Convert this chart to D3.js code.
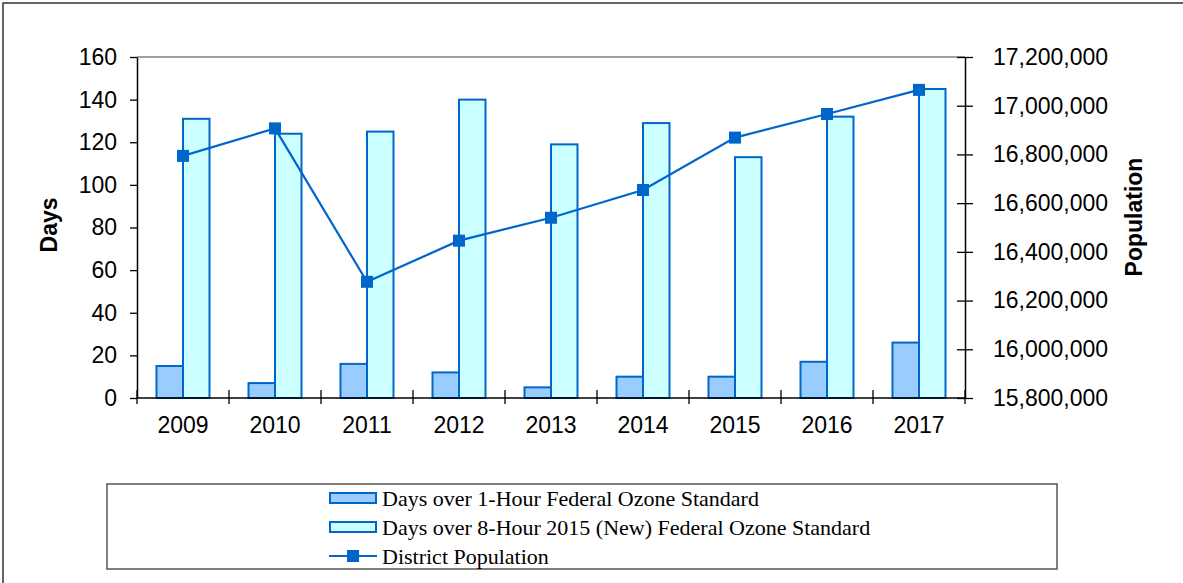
<!DOCTYPE html>
<html>
<head>
<meta charset="utf-8">
<script src="https://cdn.jsdelivr.net/npm/d3@7"></script>
<style>
  body { margin: 0; background: #fff; }
  svg { display: block; }
</style>
</head>
<body>
<div id="chart"></div>
<script>
const years = ['2009', '2010', '2011', '2012', '2013', '2014', '2015', '2016', '2017']
const oneHourDays = [15, 7, 16, 12, 5, 10, 10, 17, 26]
const eightHourDays = [131, 124, 125, 140, 119, 129, 113, 132, 145]
const population = [16794000, 16907000, 16277000, 16446000, 16540000, 16654000, 16869000, 16966000, 17065000]
const daysTicks = [0, 20, 40, 60, 80, 100, 120, 140, 160]
const popTicks = [15800000, 16000000, 16200000, 16400000, 16600000, 16800000, 17000000, 17200000]
const legendLabels = [
    'Days over 1-Hour Federal Ozone Standard',
    'Days over 8-Hour 2015 (New) Federal Ozone Standard',
    'District Population'
]

const W = 1183, H = 583
const plotL = 137, plotR = 965, plotT = 57, plotB = 398
const blue = '#0066cc'
const axisFont = '"Liberation Sans", Arial, sans-serif'

const svg = d3.select('#chart').append('svg')
    .attr('width', W)
    .attr('height', H)

// outer chart border (only top and left fall inside the picture)
svg.append('rect')
    .attr('x', 3).attr('y', 3)
    .attr('width', W + 20).attr('height', H + 20)
    .attr('fill', 'none')
    .attr('stroke', '#333')
    .attr('stroke-width', 1.5)

let x = d3.scaleBand().domain(years).range([plotL, plotR])
let xSub = d3.scaleBand().domain(['h1', 'h8']).range([0, x.bandwidth()]).paddingOuter(0.736)
let yL = d3.scaleLinear().domain([0, 160]).range([plotB, plotT])
let yR = d3.scaleLinear().domain([15800000, 17200000]).range([plotB, plotT])

// plot area top edge
svg.append('line')
    .attr('x1', plotL).attr('x2', plotR)
    .attr('y1', plotT).attr('y2', plotT)
    .attr('stroke', '#808080').attr('stroke-width', 1.5)

const rows = years.map((y, i) => ({ year: y, h1: oneHourDays[i], h8: eightHourDays[i], pop: population[i] }))

// bars
const groups = svg.selectAll('g.year').data(rows)
    .enter().append('g')
    .attr('class', 'year')
    .attr('transform', d => `translate(${x(d.year)},0)`)

groups.append('rect')
    .attr('x', xSub('h1'))
    .attr('width', xSub.bandwidth())
    .attr('y', d => yL(d.h1))
    .attr('height', d => yL(0) - yL(d.h1))
    .attr('fill', '#99ccff')
    .attr('stroke', blue).attr('stroke-width', 2)

groups.append('rect')
    .attr('x', xSub('h8'))
    .attr('width', xSub.bandwidth())
    .attr('y', d => yL(d.h8))
    .attr('height', d => yL(0) - yL(d.h8))
    .attr('fill', '#ccffff')
    .attr('stroke', blue).attr('stroke-width', 2)

// axes
const styleAxis = g => {
    g.selectAll('text').attr('font-family', axisFont).attr('font-size', 23).attr('fill', '#000')
    g.selectAll('line').attr('stroke', '#000').attr('stroke-width', 1.3)
    g.select('.domain').attr('stroke', '#000').attr('stroke-width', 1.5)
}

svg.append('g')
    .attr('transform', `translate(${plotL},0)`)
    .call(d3.axisLeft(yL).tickValues(daysTicks).tickSize(7).tickSizeOuter(0).tickPadding(13))
    .call(styleAxis)

svg.append('g')
    .attr('transform', `translate(${plotR},0)`)
    .call(d3.axisRight(yR).tickValues(popTicks).tickFormat(d3.format(',')).tickSize(8).tickSizeOuter(0).tickPadding(20))
    .call(styleAxis)
    .call(g => g.selectAll('.tick line').attr('x1', -8))

const xAxis = svg.append('g')
    .attr('transform', `translate(0,${plotB})`)
    .call(d3.axisBottom(x).tickSize(0).tickPadding(19))
    .call(styleAxis)
xAxis.select('.domain').attr('d', `M${plotL},0H${plotR}`)
xAxis.selectAll('.tick-mark')
    .data(years.map(y => x(y)).concat([x(years[years.length - 1]) + x.bandwidth()]))
    .enter().append('line')
    .attr('class', 'tick-mark')
    .attr('x1', d => d).attr('x2', d => d)
    .attr('y1', -8).attr('y2', 6)
    .attr('stroke', '#000').attr('stroke-width', 1.3)

// population line
const line = d3.line().x(d => x(d.year) + x.bandwidth() / 2).y(d => yR(d.pop))
svg.append('path')
    .datum(rows)
    .attr('d', line)
    .attr('fill', 'none')
    .attr('stroke', blue).attr('stroke-width', 2.2)

svg.selectAll('rect.marker').data(rows)
    .enter().append('rect')
    .attr('class', 'marker')
    .attr('x', d => x(d.year) + x.bandwidth() / 2 - 6)
    .attr('y', d => yR(d.pop) - 6)
    .attr('width', 12).attr('height', 12)
    .attr('fill', blue)

// axis titles
svg.append('text')
    .attr('transform', 'translate(57,225) rotate(-90)')
    .attr('text-anchor', 'middle')
    .attr('font-family', axisFont).attr('font-weight', 'bold').attr('font-size', 23)
    .text('Days')

svg.append('text')
    .attr('transform', 'translate(1142,217) rotate(-90)')
    .attr('text-anchor', 'middle')
    .attr('font-family', axisFont).attr('font-weight', 'bold').attr('font-size', 23)
    .text('Population')

// legend
const legend = svg.append('g')
legend.append('rect')
    .attr('x', 107).attr('y', 484)
    .attr('width', 950).attr('height', 85)
    .attr('fill', '#fff')
    .attr('stroke', '#555').attr('stroke-width', 1.5)

const rowY = [498, 527, 556]
legend.append('rect')
    .attr('x', 330).attr('y', rowY[0] - 5).attr('width', 46).attr('height', 10)
    .attr('fill', '#99ccff').attr('stroke', blue).attr('stroke-width', 2)
legend.append('rect')
    .attr('x', 330).attr('y', rowY[1] - 5).attr('width', 46).attr('height', 10)
    .attr('fill', '#ccffff').attr('stroke', blue).attr('stroke-width', 2)
legend.append('line')
    .attr('x1', 329).attr('x2', 377).attr('y1', rowY[2]).attr('y2', rowY[2])
    .attr('stroke', blue).attr('stroke-width', 2)
legend.append('rect')
    .attr('x', 347).attr('y', rowY[2] - 6).attr('width', 12).attr('height', 12)
    .attr('fill', blue)

legend.selectAll('text.lab').data(legendLabels)
    .enter().append('text')
    .attr('class', 'lab')
    .attr('x', 382)
    .attr('y', (d, i) => rowY[i])
    .attr('dy', '0.35em')
    .attr('font-family', '"Liberation Serif", "Times New Roman", serif')
    .attr('font-size', 22)
    .text(d => d)
</script>
</body>
</html>
